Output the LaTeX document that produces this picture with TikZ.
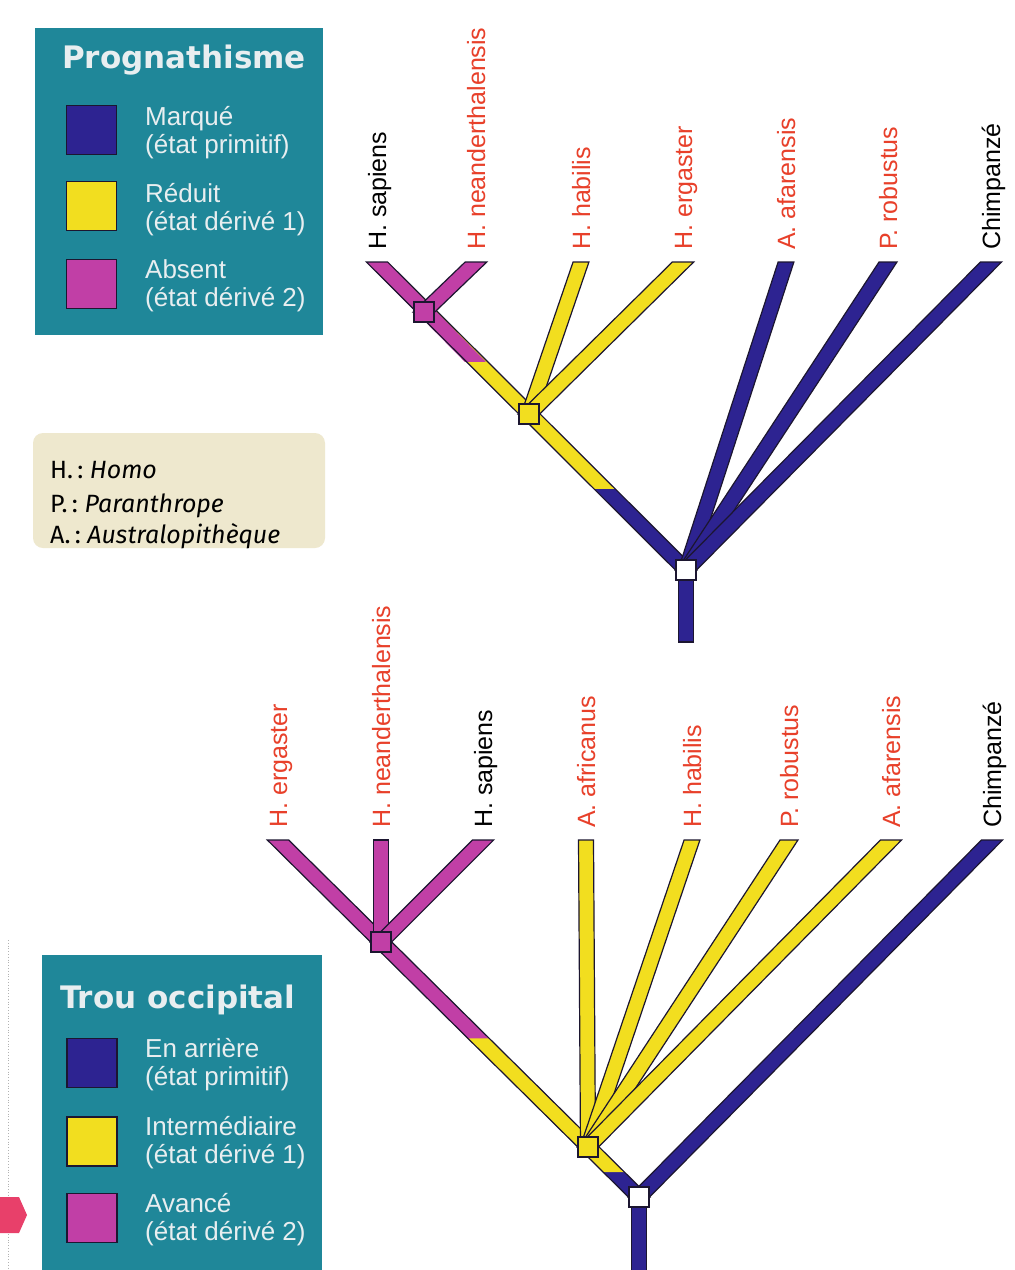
\documentclass[tikz,border=0pt]{standalone}
\usepackage{fontspec}
\setmainfont{Liberation Sans}
\newfontfamily\titlefont{DejaVu Sans}
\newfontfamily\keyfont{Fira Sans}
\usetikzlibrary{calc}

\definecolor{legteal}{HTML}{1F8799}
\definecolor{primblue}{HTML}{2D2391}
\definecolor{deryel}{HTML}{F2DE1F}
\definecolor{dermag}{HTML}{C13FA6}
\definecolor{labred}{HTML}{E8402A}
\definecolor{legtxt}{HTML}{E8EEF0}
\definecolor{keybg}{HTML}{EEE8CE}
\definecolor{outl}{HTML}{1C1630}
\definecolor{pagemark}{HTML}{E8406A}

% a branch: band between two points, cut horizontally at both ends
\newcommand\limbfill[3]{\fill[#3] let \p1=(#1),\p2=(#2),
  \n1={7.5*veclen(\x2-\x1,\y2-\y1)/abs(\y2-\y1)} in
  (\x1-\n1,\y1) -- (\x1+\n1,\y1) -- (\x2+\n1,\y2) -- (\x2-\n1,\y2) -- cycle;}
\newcommand\limbedge[2]{\draw[line width=1.2pt, outl, line join=miter] let \p1=(#1),\p2=(#2),
  \n1={7.5*veclen(\x2-\x1,\y2-\y1)/abs(\y2-\y1)} in
  (\x1-\n1,\y1) -- (\x1+\n1,\y1) -- (\x2+\n1,\y2) -- (\x2-\n1,\y2) -- cycle;}
\newcommand\limb[3]{\limbfill{#1}{#2}{#3}\limbedge{#1}{#2}}

\begin{document}
\begin{tikzpicture}[x=1pt,y=-1pt,
  lab/.style={rotate=90, anchor=base west, inner sep=0pt, font=\fontsize{25}{30}\selectfont},
  legt/.style={anchor=base west, inner sep=0pt, text=legtxt, font=\fontsize{26}{30}\selectfont},
  legtitle/.style={anchor=base west, inner sep=0pt, text=legtxt, font=\titlefont\bfseries\fontsize{31}{36}\selectfont},
  swatch/.style={draw=outl, line width=1.5pt, minimum width=50pt, minimum height=49pt, inner sep=0pt},
  knot/.style={draw=outl, line width=1.2pt, minimum size=20pt, inner sep=0pt},
  keyt/.style={anchor=base west, inner sep=0pt, font=\keyfont\fontsize{25}{30}\selectfont}]

\useasboundingbox (0,0) rectangle (1015,1270);
\fill[white] (0,0) rectangle (1015,1270);

% ---------- legend: prognathisme ----------
\fill[legteal] (35,28) rectangle (323,335);
\node[legtitle] (ttl1) at (62,68) {Prognathisme};
\node[swatch, fill=primblue] (sa1) at (91.5,130) {};
\node[swatch, fill=deryel]   (sa2) at (91.5,206) {};
\node[swatch, fill=dermag]   (sa3) at (91.5,284) {};
\node[legt] (pa1) at (145,125) {Marqué};
\node[legt] (pa2) at (145,153) {(état primitif)};
\node[legt] (pa3) at (145,202) {Réduit};
\node[legt] (pa4) at (145,230) {(état dérivé 1)};
\node[legt] (pa5) at (145,278) {Absent};
\node[legt] (pa6) at (145,306) {(état dérivé 2)};

% ---------- abbreviations ----------
\fill[keybg, rounded corners=10pt] (33,433) rectangle (325,548);
\node[keyt] (ab1) at (50,478) {H.\,:\ \textit{Homo}};
\node[keyt] (ab2) at (50,512) {P.\,:\ \textit{Paranthrope}};
\node[keyt] (ab3) at (50,543) {A.\,:\ \textit{Australopithèque}};

% ---------- legend: trou occipital ----------
\fill[legteal] (42,955) rectangle (322,1270);
\node[legtitle] (ttl2) at (60,1008) {Trou occipital};
\node[swatch, fill=primblue] (sb1) at (92,1063) {};
\node[swatch, fill=deryel]   (sb2) at (92,1141.5) {};
\node[swatch, fill=dermag]   (sb3) at (92,1218) {};
\node[legt] (pb1) at (145,1057) {En arrière};
\node[legt] (pb2) at (145,1085) {(état primitif)};
\node[legt] (pb3) at (145,1135) {Intermédiaire};
\node[legt] (pb4) at (145,1163) {(état dérivé 1)};
\node[legt] (pb5) at (145,1212) {Avancé};
\node[legt] (pb6) at (145,1240) {(état dérivé 2)};

% page margin marks
\draw[black!30, dotted, line width=0.8pt] (8,940) -- (8,1270);
\fill[pagemark] (0,1197) -- (19,1197) -- (27,1215) -- (19,1233) -- (0,1233) -- cycle;

% ---------- upper tree ----------
\coordinate (w1) at (686,570);
\coordinate (y1) at (529,414);
\coordinate (m1) at (424,312);
\coordinate (r1) at (686,642);
\coordinate (tS1)  at (377,262);
\coordinate (tN1)  at (476,262);
\coordinate (tHa1) at (581,262);
\coordinate (tEr1) at (683,262);
\coordinate (tAf1) at (786,262);
\coordinate (tRo1) at (888,262);
\coordinate (tCh1) at (991,262);
\coordinate (c1) at ($(w1)!0.52!(y1)$);
\coordinate (c2) at ($(y1)!0.51!(m1)$);

\limb{w1}{r1}{primblue}
\limbfill{w1}{tS1}{primblue}
\limbfill{c1}{tS1}{deryel}
\limbfill{c2}{tS1}{dermag}
\limbedge{w1}{tS1}
\limb{m1}{tN1}{dermag}
\limb{y1}{tHa1}{deryel}
\limb{y1}{tEr1}{deryel}
\limb{w1}{tAf1}{primblue}
\limb{w1}{tRo1}{primblue}
\limb{w1}{tCh1}{primblue}

\node[knot, fill=white]  (nw1) at (w1) {};
\node[knot, fill=deryel] (ny1) at (y1) {};
\node[knot, fill=dermag] (nm1) at (m1) {};

\node[lab, text=black]  (lS1)  at (386,250) {H. sapiens};
\node[lab, text=labred] (lN1)  at (485,250) {H. neanderthalensis};
\node[lab, text=labred] (lHa1) at (590,250) {H. habilis};
\node[lab, text=labred] (lEr1) at (692,250) {H. ergaster};
\node[lab, text=labred] (lAf1) at (795,250) {A. afarensis};
\node[lab, text=labred] (lRo1) at (897,250) {P. robustus};
\node[lab, text=black]  (lCh1) at (1000,250) {Chimpanzé};

% ---------- lower tree ----------
\coordinate (w2) at (639,1197);
\coordinate (y2) at (588,1147);
\coordinate (m2) at (381,942);
\coordinate (r2) at (639,1280);
\coordinate (tEr2) at (278,840);
\coordinate (tN2)  at (381,840);
\coordinate (tS2)  at (483,840);
\coordinate (tAc2) at (586,840);
\coordinate (tHa2) at (692,840);
\coordinate (tRo2) at (789,840);
\coordinate (tAf2) at (891,840);
\coordinate (tCh2) at (992,840);
\coordinate (c3) at ($(w2)!0.5!(y2)$);
\coordinate (c4) at ($(y2)!0.53!(m2)$);

\limb{w2}{r2}{primblue}
\limbfill{w2}{tEr2}{primblue}
\limbfill{c3}{tEr2}{deryel}
\limbfill{c4}{tEr2}{dermag}
\limbedge{w2}{tEr2}
\limb{m2}{tN2}{dermag}
\limb{m2}{tS2}{dermag}
\limb{y2}{tAc2}{deryel}
\limb{y2}{tHa2}{deryel}
\limb{y2}{tRo2}{deryel}
\limb{y2}{tAf2}{deryel}
\limb{w2}{tCh2}{primblue}

\node[knot, fill=white]  (nw2) at (w2) {};
\node[knot, fill=deryel] (ny2) at (y2) {};
\node[knot, fill=dermag] (nm2) at (m2) {};

\node[lab, text=labred] (lEr2) at (287,828) {H. ergaster};
\node[lab, text=labred] (lN2)  at (390,828) {H. neanderthalensis};
\node[lab, text=black]  (lS2)  at (492,828) {H. sapiens};
\node[lab, text=labred] (lAc2) at (595,828) {A. africanus};
\node[lab, text=labred] (lHa2) at (701,828) {H. habilis};
\node[lab, text=labred] (lRo2) at (798,828) {P. robustus};
\node[lab, text=labred] (lAf2) at (900,828) {A. afarensis};
\node[lab, text=black]  (lCh2) at (1001,828) {Chimpanzé};

\end{tikzpicture}
\end{document}
